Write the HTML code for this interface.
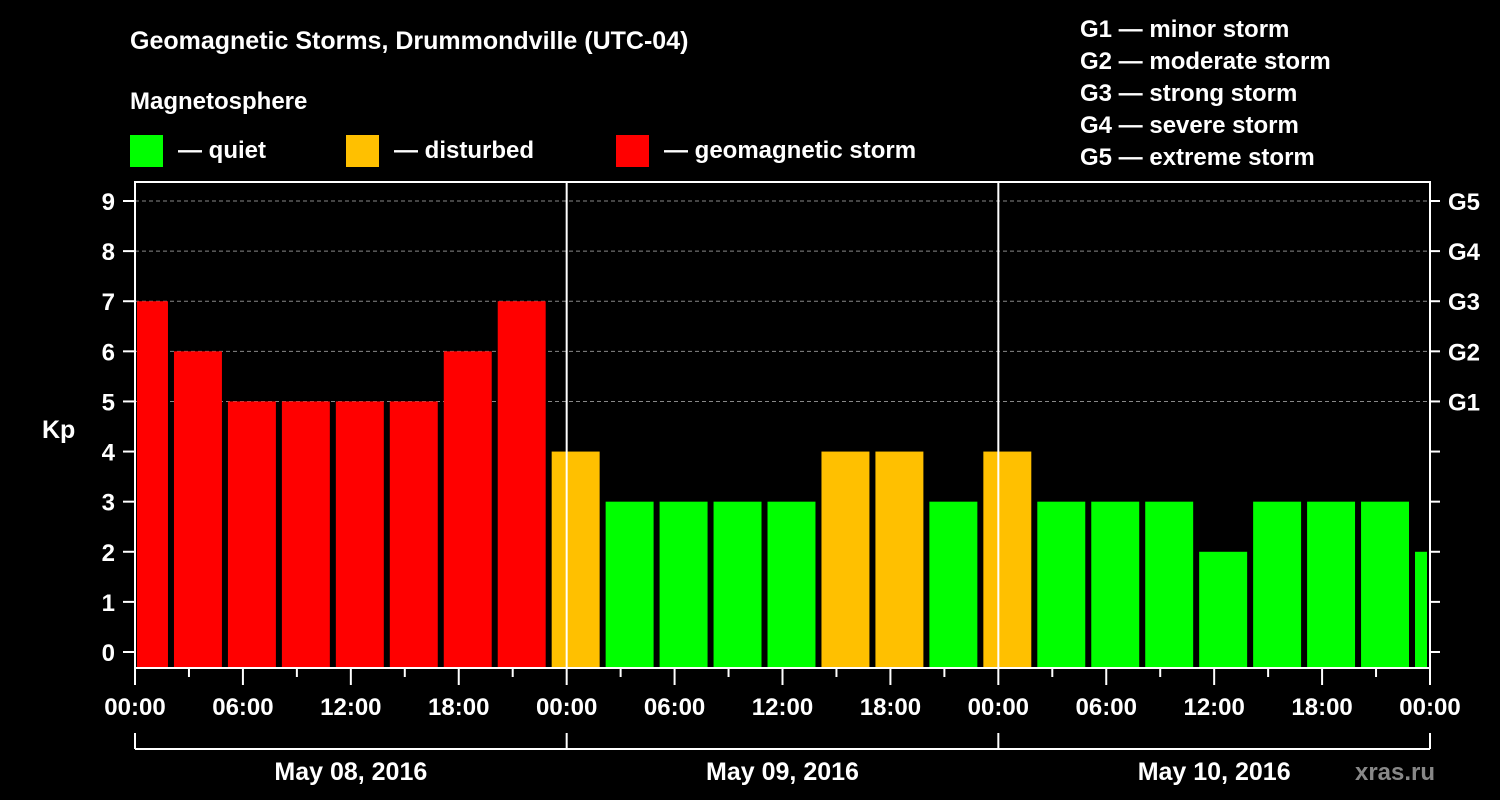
<!DOCTYPE html>
<html><head><meta charset="utf-8"><style>
html,body{margin:0;padding:0;background:#000;}
svg{display:block;font-family:"Liberation Sans",sans-serif;font-weight:bold;}
</style></head><body>
<svg id="chart" width="1500" height="800" xmlns="http://www.w3.org/2000/svg">
<rect width="1500" height="800" fill="#000"/>
<text x="130" y="49" fill="#fff" font-size="25">Geomagnetic Storms, Drummondville (UTC-04)</text>
<text x="130" y="109" fill="#fff" font-size="24">Magnetosphere</text>
<g><rect x="130" y="135" width="33" height="32" fill="#00ff00"/><text x="178" y="158" fill="#fff" font-size="24">— quiet</text></g>
<g><rect x="346" y="135" width="33" height="32" fill="#ffc000"/><text x="394" y="158" fill="#fff" font-size="24">— disturbed</text></g>
<g><rect x="616" y="135" width="33" height="32" fill="#ff0000"/><text x="664" y="158" fill="#fff" font-size="24">— geomagnetic storm</text></g>
<g fill="#fff" font-size="24">
<text x="1080" y="37">G1 — minor storm</text>
<text x="1080" y="69">G2 — moderate storm</text>
<text x="1080" y="101">G3 — strong storm</text>
<text x="1080" y="133">G4 — severe storm</text>
<text x="1080" y="165">G5 — extreme storm</text>
</g>
<text x="42" y="438" fill="#fff" font-size="25">Kp</text>
<g id="grid"></g><g id="bars"></g><g id="axes"></g>
<text x="1395" y="780" fill="#888" font-size="24" text-anchor="middle">xras.ru</text>
</svg>
<script>
const kpValues=[7,6,5,5,5,5,6,7,4,3,3,3,3,4,4,3,4,3,3,3,2,3,3,3,2];
const firstBarStartHour=-1;
const barStepHours=3;
const dayLabels=["May 08, 2016","May 09, 2016","May 10, 2016"];
const hourLabels=["00:00","06:00","12:00","18:00"];
const yTicks=[0,1,2,3,4,5,6,7,8,9];
const gLabels=["G1","G2","G3","G4","G5"];

const NS="http://www.w3.org/2000/svg";
const X0=135,X1=1430,TOTALH=72,PT=182,PB=668;
const x=h=>X0+(X1-X0)*h/TOTALH;
const y=v=>652-50.11*v;
function mk(tag,attrs,parent){const e=document.createElementNS(NS,tag);for(const k in attrs)e.setAttribute(k,attrs[k]);parent.appendChild(e);return e;}
const grid=document.getElementById('grid'),bars=document.getElementById('bars'),axes=document.getElementById('axes');
yTicks.forEach(v=>{
  if(v>=5){const l=mk('line',{x1:X0,x2:X1,y1:y(v),y2:y(v),stroke:'#888','stroke-dasharray':'4,3','stroke-width':1},grid);
  
  }
  const t=mk('line',{x1:X0-12,x2:X0,y1:y(v),y2:y(v),stroke:'#fff','stroke-width':2},axes);
  
  
  const t2=mk('line',{x1:X1,x2:X1+10,y1:y(v),y2:y(v),stroke:'#fff','stroke-width':2},axes);
  
  
  const lb=mk('text',{x:X0-20,y:y(v)+9,fill:'#fff','font-size':24,'text-anchor':'end'},axes);lb.textContent=v;
  
  
});
gLabels.forEach((g,i)=>{const lb=mk('text',{x:X1+18,y:y(5+i)+9,fill:'#fff','font-size':24},axes);lb.textContent=g;
  
  });
kpValues.forEach((v,i)=>{
  let s=firstBarStartHour+i*barStepHours,e=s+barStepHours;
  s=Math.max(s,0);e=Math.min(e,TOTALH);
  const x0=x(s)+(s===0?2:3),x1=x(e)-3;
  const c=v>=5?'#ff0000':(v>=4?'#ffc000':'#00ff00');
  const r=mk('rect',{x:x0,y:y(v),width:Math.max(0,x1-x0),height:PB-y(v),fill:c},bars);
  
  
});
const fr=mk('rect',{x:X0,y:PT,width:X1-X0,height:PB-PT,fill:'none',stroke:'#fff','stroke-width':2},axes);


for(let d=1;d<dayLabels.length;d++){const l=mk('line',{x1:x(d*24),x2:x(d*24),y1:PT,y2:PB,stroke:'#fff','stroke-width':2},axes);
  
  }
for(let h=0;h<=TOTALH;h+=3){const major=h%6===0;
  const t=mk('line',{x1:x(h),x2:x(h),y1:PB,y2:PB+(major?17:9),stroke:'#fff','stroke-width':2},axes);
  
  }
for(let d=0;d<=dayLabels.length;d++){hourLabels.forEach((hl,j)=>{
  if(d===dayLabels.length&&j>0)return;
  const lb=mk('text',{x:x(d*24+j*6),y:715,fill:'#fff','font-size':24,'text-anchor':'middle'},axes);lb.textContent=hl;
  
  });}
const br=mk('line',{x1:X0,x2:X1,y1:749,y2:749,stroke:'#fff','stroke-width':2},axes);


for(let d=0;d<=dayLabels.length;d++){const l=mk('line',{x1:x(d*24),x2:x(d*24),y1:733,y2:749,stroke:'#fff','stroke-width':2},axes);
  
  }
dayLabels.forEach((dl,d)=>{const lb=mk('text',{x:x(d*24+12),y:780,fill:'#fff','font-size':25,'text-anchor':'middle'},axes);lb.textContent=dl;
  
  });
</script>
</body></html>
